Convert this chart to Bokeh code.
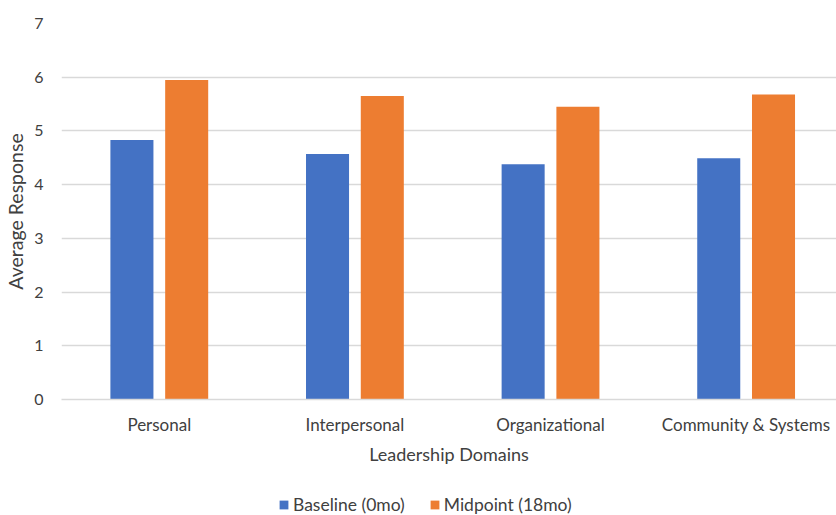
from bokeh.plotting import figure
from bokeh.layouts import column
from bokeh.models import ColumnDataSource, FixedTicker, Legend, LegendItem, Range1d
from bokeh.transform import dodge
from bokeh.embed import file_html
from bokeh.resources import INLINE

categories = ["Personal", "Interpersonal", "Organizational", "Community & Systems"]
baseline = [4.83, 4.57, 4.38, 4.49]
midpoint = [5.95, 5.65, 5.45, 5.68]
series_names = ["Baseline (0mo)", "Midpoint (18mo)"]
y_ticks = [0, 1, 2, 3, 4, 5, 6, 7]

FONT = "Lato"
TXT = "#404040"
BLUE = "#4472C4"
ORANGE = "#ED7D31"

xpos = [i + 0.5 for i in range(len(categories))]
src = ColumnDataSource(dict(x=xpos, base=baseline, mid=midpoint))

p = figure(width=836, height=489, output_backend="svg", toolbar_location=None,
           x_range=Range1d(0, 3.962), y_range=Range1d(0, 7),
           min_border_left=61, min_border_right=0, min_border_top=23, min_border_bottom=90)
p.outline_line_color = None
p.background_fill_color = "white"
p.border_fill_color = "white"

r1 = p.vbar(x=dodge("x", -0.14, range=p.x_range), top="base", width=0.22, source=src,
            fill_color=BLUE, line_color=None)
r2 = p.vbar(x=dodge("x", 0.14, range=p.x_range), top="mid", width=0.22, source=src,
            fill_color=ORANGE, line_color=None)

# y axis
p.yaxis.ticker = FixedTicker(ticks=y_ticks)
p.yaxis.axis_line_color = None
p.yaxis.major_tick_line_color = None
p.yaxis.minor_tick_line_color = None
p.yaxis.major_label_text_font = FONT
p.yaxis.major_label_text_font_size = "16px"
p.yaxis.major_label_text_color = TXT
p.yaxis.major_label_standoff = 12
p.yaxis.axis_label = "Average Response"
p.yaxis.axis_label_text_font = FONT
p.yaxis.axis_label_text_font_size = "19.5px"
p.yaxis.axis_label_text_font_style = "normal"
p.yaxis.axis_label_text_color = TXT
p.yaxis.axis_label_standoff = 4

# x axis
p.xaxis.ticker = FixedTicker(ticks=xpos)
p.xaxis.major_label_overrides = {x: c for x, c in zip(xpos, categories)}
p.xaxis.axis_line_color = "#D9D9D9"
p.xaxis.axis_line_width = 1.5
p.xaxis.major_tick_line_color = None
p.xaxis.minor_tick_line_color = None
p.xaxis.major_label_text_font = FONT
p.xaxis.major_label_text_font_size = "17px"
p.xaxis.major_label_text_color = TXT
p.xaxis.major_label_standoff = 8
p.xaxis.axis_label = "Leadership Domains"
p.xaxis.axis_label_text_font = FONT
p.xaxis.axis_label_text_font_size = "18px"
p.xaxis.axis_label_text_font_style = "normal"
p.xaxis.axis_label_text_color = TXT
p.xaxis.axis_label_standoff = 5

p.xgrid.grid_line_color = None
p.ygrid.ticker = FixedTicker(ticks=y_ticks)
p.ygrid.grid_line_color = "#D9D9D9"
p.ygrid.grid_line_width = 1.5

# legend strip (proxy renderers lie outside its ranges, only the legend shows)
lg = figure(width=836, height=26, output_backend="svg", toolbar_location=None,
            x_range=Range1d(0, 1), y_range=Range1d(0, 1),
            min_border_left=0, min_border_right=0, min_border_top=0, min_border_bottom=0)
lg.axis.visible = False
lg.grid.visible = False
lg.outline_line_color = None
lr1 = lg.vbar(x=[-10], top=[-10], width=0.1, fill_color=BLUE, line_color=None)
lr2 = lg.vbar(x=[-10], top=[-10], width=0.1, fill_color=ORANGE, line_color=None)
legend = Legend(items=[LegendItem(label=series_names[0], renderers=[lr1]),
                       LegendItem(label=series_names[1], renderers=[lr2])],
                orientation="horizontal", location=(217, 0))
legend.label_text_font = FONT
legend.label_text_font_size = "17.5px"
legend.label_text_color = TXT
legend.glyph_width = 11
legend.glyph_height = 11
legend.spacing = 24
legend.label_standoff = 4
legend.border_line_color = None
legend.background_fill_alpha = 0
legend.margin = 0
legend.padding = 0
lg.add_layout(legend, "center")

layout = column(p, lg, spacing=0)
open("out.html", "w").write(file_html(layout, INLINE))
